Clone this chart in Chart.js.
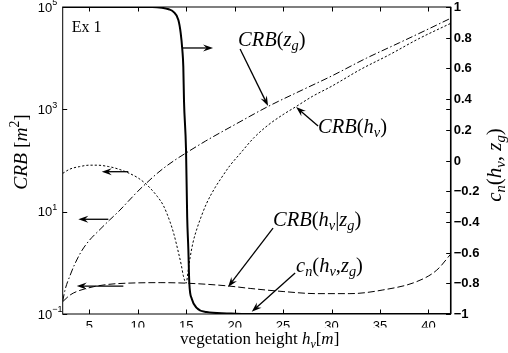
<!DOCTYPE html>
<html><head><meta charset="utf-8">
<script src="https://cdn.jsdelivr.net/npm/chart.js@4/dist/chart.umd.min.js"></script>
<style>html,body{margin:0;padding:0;background:#fff;}#wrap{width:508px;height:353px;}</style>
</head><body><div id="wrap"><canvas id="c" width="508" height="353"></canvas></div>
<script>
// ---------- data ----------
// CRB(z_g)  (left, log axis, m^2)
const xZg   = [2.25,2.5,3,3.5,4.2,5,6,7.1,8,9,10,10.85,12,13,14,15,17,20,23.5,27,30,33.6,37,40,42.3];
const crbZg = [0.178,0.3,0.56,0.95,1.7,2.75,4.3,6.9,10,15.8,25,35.5,56,79,107,141,240,500,1150,2400,4470,10000,20000,37150,60260];
// CRB(h_v)  (left, log axis)
const xHv   = [2.25,3,4,5,5.8,7,8,8.86,10,10.9,11.5,12,12.64,13.33,13.7,14.2,14.5,14.7,15.0,15.2,15.4,15.7,16.1,16.6,17.1,18,18.5,19.5,20.5,22,23.5,25,26.3,28,30,33,36,39,42.3];
const crbHv = [56,68,76,81,81,76,68,59,46,34,26,20,13.2,6.3,3.8,1.58,0.89,0.56,0.4,0.71,1.26,2.5,4.6,8.5,14.5,30,42,79,132,280,500,790,1120,1780,2820,6030,11750,24000,47900];
// CRB(h_v|z_g) (left, log axis)
const xHvZg   = [2.25,3,3.7,5.4,7,8.86,12.3,15.05,19.2,21.6,25,28.5,31.9,35.3,38.8,40.86,42.3];
const crbHvZg = [0.174,0.234,0.275,0.34,0.38,0.4,0.41,0.4,0.355,0.316,0.275,0.25,0.25,0.295,0.43,0.72,1.48];
// c_n(h_v,z_g) (right, linear axis)
const xCn = [2.25,8,11.5,12.5,13.2,13.66,14.19,14.43,14.6,14.7,14.77,14.98,15.1,15.22,15.32,15.57,16.08,17.1,19.2,21,30,42.3];
const cn  = [1,1,1,0.995,0.985,0.97,0.915,0.83,0.72,0.61,0.39,0.07,-0.37,-0.58,-0.8,-0.9,-0.96,-0.987,-0.996,-1,-1,-1];

// ---------- ticks ----------
const xTicks = [5,10,15,20,25,30,35,40];
const leftTicks = [0.1,10,1000,100000];
const leftTickExp = ['\u22121','1','3','5'];
const rightTicks = [1,0.8,0.6,0.4,0.2,0,-0.2,-0.4,-0.6,-0.8,-1];
const rightTickLabels = ['1','0.8','0.6','0.4','0.2','0','\u22120.2','\u22120.4','\u22120.6','\u22120.8','\u22121'];

// ---------- annotations (data coordinates) ----------
const SERIF = '"Liberation Serif","DejaVu Serif",serif';
const SANS = '"Liberation Sans","DejaVu Sans",sans-serif';
const textNotes = [
  {segs:[['Ex 1','r']], x:3.18, y:40600, axis:'y', size:16},
  {segs:[['CRB','i'],['(','r'],['z','i'],['g','is'],[')','r']], x:20.35, y:23650, axis:'y', size:20.5},
  {segs:[['CRB','i'],['(','r'],['h','i'],['v','is'],[')','r']], x:28.6, y:472, axis:'y', size:20.5},
  {segs:[['CRB','i'],['(','r'],['h','i'],['v','is'],['|','r'],['z','i'],['g','is'],[')','r']], x:23.96, y:7.2, axis:'y', size:20.5},
  {segs:[['c','i'],['n','is'],['(','r'],['h','i'],['v','is'],[',','r'],['z','i'],['g','is'],[')','r']], x:26.34, y:0.91, axis:'y', size:20.5}
];
const arrows = [
  {x1:14.57, y1:0.733, x2:17.77, y2:0.733, axis:'y2'},
  {x1:20.56, y1:15100, x2:23.45, y2:1160, axis:'y'},
  {x1:28.61, y1:472, x2:26.34, y2:1110, axis:'y'},
  {x1:23.96, y1:4.79, x2:19.32, y2:0.337, axis:'y'},
  {x1:26.24, y1:-0.733, x2:21.76, y2:-0.985, axis:'y2'},
  {x1:9.02, y1:60.4, x2:6.28, y2:60.4, axis:'y'},
  {x1:6.96, y1:7.1, x2:3.86, y2:7.1, axis:'y'},
  {x1:8.51, y1:0.352, x2:3.7, y2:0.352, axis:'y'}
];

function pts(xs, ys){ return xs.map((x,i)=>({x:x, y:ys[i]})); }

function segFont(st, size){
  const sub = st.indexOf('s')>=0 || st.indexOf('p')>=0;
  const it = st.indexOf('i')>=0;
  const sz = sub ? size*0.7 : size;
  return (it?'italic ':'') + sz + 'px ' + SERIF;
}
function mathWidth(ctx, segs, size){
  let w=0; for(const s of segs){ ctx.font=segFont(s[1],size); w+=ctx.measureText(s[0]).width; } return w;
}
function drawMath(ctx, segs, x, y, size){
  let cx=x;
  ctx.textBaseline='alphabetic'; ctx.textAlign='left';
  for(const s of segs){
    ctx.font=segFont(s[1],size);
    let dy=0;
    if(s[1].indexOf('s')>=0) dy=size*0.22;
    if(s[1].indexOf('p')>=0) dy=-size*0.4;
    ctx.fillText(s[0], cx, y+dy);
    cx+=ctx.measureText(s[0]).width;
  }
}
function arrowHead(ctx, x1,y1,x2,y2){
  const a=Math.atan2(y2-y1,x2-x1), L=10, W=3.5;
  const c=Math.cos(a), s=Math.sin(a);
  ctx.beginPath();
  ctx.moveTo(x2,y2);
  ctx.lineTo(x2-L*c - W*(-s), y2-L*s - W*c);
  ctx.lineTo(x2-0.65*L*c, y2-0.65*L*s);
  ctx.lineTo(x2-L*c + W*(-s), y2-L*s + W*c);
  ctx.closePath(); ctx.fill();
}

const decor = {
  id:'decor',
  afterDraw(chart){
    const ctx=chart.ctx, a=chart.chartArea;
    const sx=chart.scales.x, sy=chart.scales.y, sy2=chart.scales.y2;
    ctx.save();
    ctx.strokeStyle='#000'; ctx.fillStyle='#000';
    // box
    ctx.lineWidth=1;
    ctx.strokeRect(a.left, a.top, a.right-a.left, a.bottom-a.top);
    ctx.lineWidth=1.5;
    ctx.beginPath(); ctx.moveTo(a.right,a.top); ctx.lineTo(a.right,a.bottom); ctx.stroke();
    // ticks
    const T=4.5;
    ctx.lineWidth=1;
    ctx.beginPath();
    for(const t of sx.ticks){ const p=Math.round(sx.getPixelForValue(t.value))+0.5;
      ctx.moveTo(p,a.bottom); ctx.lineTo(p,a.bottom-T); ctx.moveTo(p,a.top); ctx.lineTo(p,a.top+T); }
    for(const t of sy.ticks){ const p=Math.round(sy.getPixelForValue(t.value))+0.5;
      ctx.moveTo(a.left,p); ctx.lineTo(a.left+T,p); ctx.moveTo(a.right,p); ctx.lineTo(a.right-T,p); }
    for(const t of sy2.ticks){ const p=Math.round(sy2.getPixelForValue(t.value))+0.5;
      ctx.moveTo(a.right,p); ctx.lineTo(a.right-T,p); }
    ctx.stroke();
    // left tick labels 10^k
    sy.ticks.forEach((t,i)=>{
      const p=sy.getPixelForValue(t.value);
      ctx.font='13px '+SANS; ctx.textAlign='left'; ctx.textBaseline='middle';
      const bx=a.left-25;
      ctx.fillText('10', bx, p+1);
      const w=ctx.measureText('10').width;
      ctx.font='9px '+SANS;
      ctx.fillText(leftTickExp[i], bx+w, p-4);
    });
    // right tick labels
    ctx.font='bold 13px '+SANS; ctx.textAlign='left'; ctx.textBaseline='middle';
    sy2.ticks.forEach((t,i)=>{
      const p=sy2.getPixelForValue(t.value);
      ctx.fillText(rightTickLabels[i], a.right+3, p+0.5);
    });
    // bottom tick labels
    ctx.font='13px '+SANS; ctx.textAlign='center'; ctx.textBaseline='alphabetic';
    sx.ticks.forEach((t)=>{
      const p=sx.getPixelForValue(t.value);
      ctx.fillText(String(t.value), p, a.bottom+15.5);
    });
    // white band of the xlabel box
    ctx.fillStyle='#fff';
    ctx.fillRect(0, a.bottom+13.5, chart.width, chart.height-(a.bottom+13.5));
    ctx.fillStyle='#000';
    // x title
    const xt=[['vegetation height ','r'],['h','i'],['v','is'],['[','r'],['m','i'],[']','r']];
    const xw=mathWidth(ctx,xt,17);
    drawMath(ctx, xt, (a.left+a.right)/2+3-xw/2, a.bottom+30, 17);
    // left title
    const lt=[['CRB','i'],[' [','r'],['m','i'],['2','rp'],[']','r']];
    ctx.save(); ctx.translate(a.left-36, 152); ctx.rotate(-Math.PI/2);
    const lw=mathWidth(ctx,lt,19.5); drawMath(ctx, lt, -lw/2, 0, 19.5); ctx.restore();
    // right title
    const rt=[['c','i'],['n','is'],['(','r'],['h','i'],['v','is'],[', ','r'],['z','i'],['g','is'],[')','r']];
    ctx.save(); ctx.translate(a.right+50, 165); ctx.rotate(-Math.PI/2);
    const rw=mathWidth(ctx,rt,21); drawMath(ctx, rt, -rw/2, 0, 21); ctx.restore();
    // annotations
    for(const n of textNotes){
      const px=sx.getPixelForValue(n.x), py=chart.scales[n.axis].getPixelForValue(n.y);
      drawMath(ctx, n.segs, px, py+n.size*0.33, n.size);
    }
    ctx.lineWidth=1.3;
    for(const ar of arrows){
      const s=chart.scales[ar.axis];
      const x1=sx.getPixelForValue(ar.x1), y1=s.getPixelForValue(ar.y1);
      const x2=sx.getPixelForValue(ar.x2), y2=s.getPixelForValue(ar.y2);
      const ang=Math.atan2(y2-y1,x2-x1);
      ctx.beginPath(); ctx.moveTo(x1,y1); ctx.lineTo(x2-6*Math.cos(ang), y2-6*Math.sin(ang)); ctx.stroke();
      arrowHead(ctx,x1,y1,x2,y2);
    }
    ctx.restore();
  }
};

new Chart(document.getElementById('c'), {
  type:'line',
  data:{ datasets:[
    {label:'CRB(z_g)', data:pts(xZg,crbZg), yAxisID:'y', borderColor:'#000', borderWidth:1, borderDash:[7,2.5,1.5,2.5], pointRadius:0, cubicInterpolationMode:'monotone', fill:false},
    {label:'CRB(h_v)', data:pts(xHv,crbHv), yAxisID:'y', borderColor:'#000', borderWidth:1, borderDash:[2.2,2], pointRadius:0, cubicInterpolationMode:'monotone', fill:false},
    {label:'CRB(h_v|z_g)', data:pts(xHvZg,crbHvZg), yAxisID:'y', borderColor:'#000', borderWidth:1, borderDash:[7,3], pointRadius:0, cubicInterpolationMode:'monotone', fill:false},
    {label:'c_n(h_v,z_g)', data:pts(xCn,cn), yAxisID:'y2', borderColor:'#000', borderWidth:2, pointRadius:0, cubicInterpolationMode:'monotone', fill:false}
  ]},
  options:{
    responsive:false, animation:false, devicePixelRatio:1,
    layout:{padding:{top:7,left:0,right:0,bottom:0}},
    plugins:{legend:{display:false}, tooltip:{enabled:false}},
    scales:{
      x:{type:'linear', position:'bottom', min:2.25, max:42.3, grid:{display:false}, border:{display:false}, ticks:{display:false},
         afterBuildTicks:s=>{s.ticks=xTicks.map(v=>({value:v}));}, afterFit:s=>{s.height=39;}},
      y:{type:'logarithmic', position:'left', min:0.1, max:100000, grid:{display:false}, border:{display:false}, ticks:{display:false},
         afterBuildTicks:s=>{s.ticks=leftTicks.map(v=>({value:v}));}, afterFit:s=>{s.width=62.7;}},
      y2:{type:'linear', position:'right', min:-1, max:1, grid:{display:false}, border:{display:false}, ticks:{display:false},
         afterBuildTicks:s=>{s.ticks=rightTicks.map(v=>({value:v}));}, afterFit:s=>{s.width=57.3;}}
    }
  },
  plugins:[decor]
});
</script></body></html>
